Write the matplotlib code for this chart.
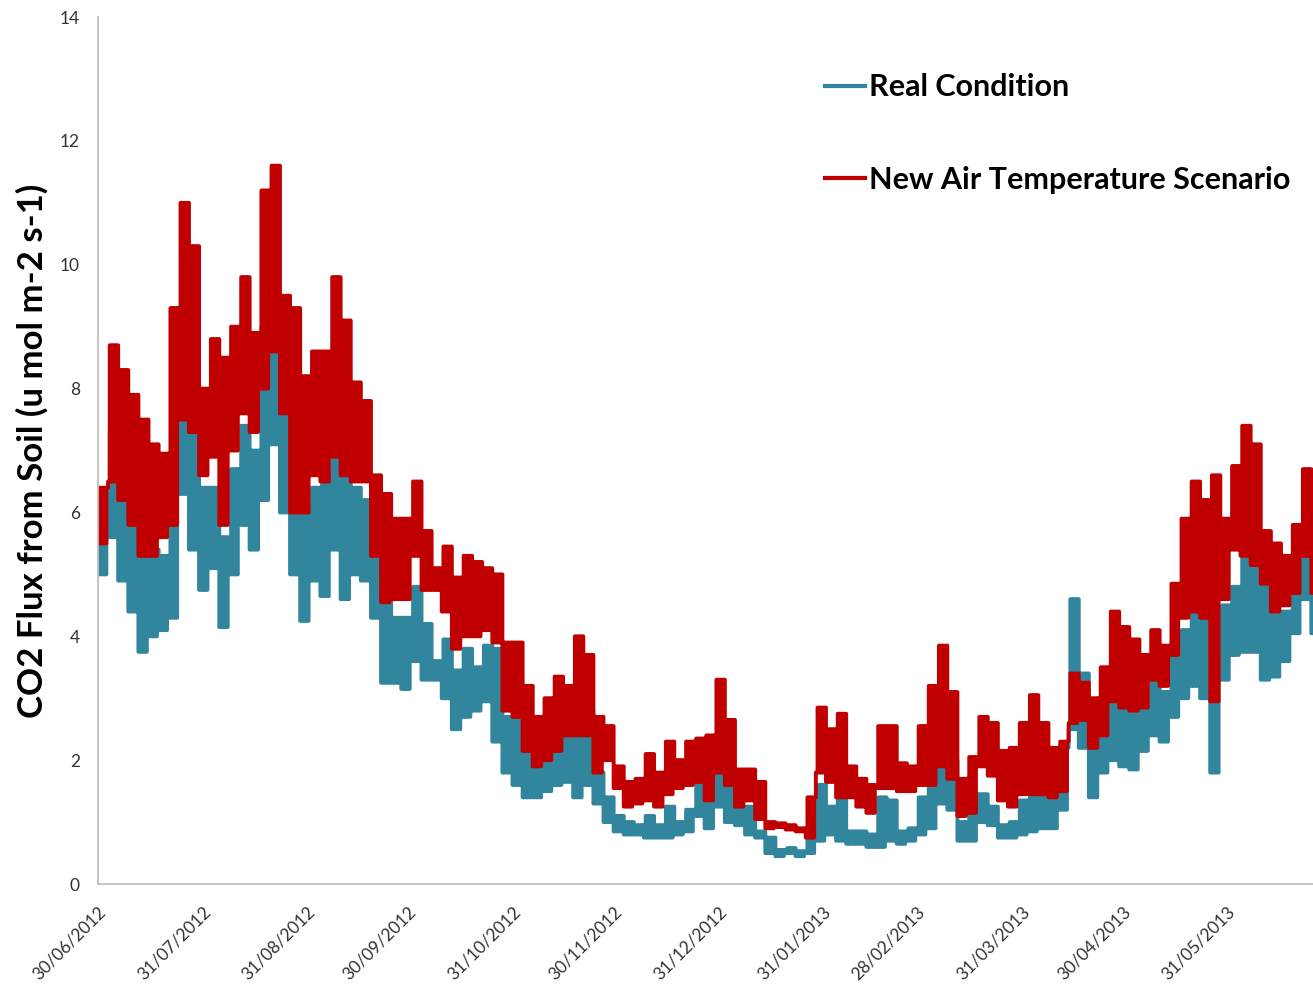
import numpy as np
import pandas as pd
import matplotlib
matplotlib.use("Agg")
import matplotlib.pyplot as plt

# 3-day windows from 30/06/2012: daily low / high
real_lo = [5.0, 5.6, 4.9, 4.4, 3.75, 4.0, 4.1, 4.3, 6.3, 5.4, 4.75, 5.1, 4.15, 5.0, 5.8, 5.4, 6.2, 7.1, 6.0, 5.0,
           4.25, 4.9, 4.65, 5.4, 4.6, 5.0, 4.9, 4.3, 3.25, 3.25, 3.15, 3.6, 3.3, 3.3, 3.0, 2.5, 2.7, 2.8, 2.95, 2.3,
           1.8, 1.6, 1.4, 1.4, 1.5, 1.6, 1.65, 1.4, 1.6, 1.3, 1.0, 0.85, 0.8, 0.8, 0.75, 0.75, 0.75, 0.8, 0.85, 1.1,
           0.9, 1.25, 1.0, 0.95, 0.8, 0.75, 0.5, 0.45, 0.5, 0.45, 0.5, 0.7, 0.8, 0.7, 0.65, 0.65, 0.6, 0.6, 0.7, 0.65,
           0.7, 0.8, 0.9, 1.3, 1.2, 0.7, 0.7, 1.0, 0.95, 0.75, 0.75, 0.8, 0.85, 0.9, 0.9, 1.2, 2.5, 2.2, 1.4, 1.8,
           2.0, 1.9, 1.85, 2.15, 2.4, 2.3, 2.7, 3.0, 3.2, 3.0, 1.8, 3.3, 3.7, 3.75, 3.75, 3.3, 3.35, 3.6, 4.05, 4.6,
           4.05]
real_hi = [5.85, 7.3, 6.8, 6.0, 5.6, 5.4, 5.3, 6.9, 8.8, 7.6, 6.4, 6.4, 5.6, 6.7, 7.4, 7.0, 9.0, 9.4, 7.6, 6.5,
           6.2, 6.4, 6.7, 7.6, 7.4, 6.4, 6.2, 5.4, 4.75, 4.3, 4.3, 4.8, 4.2, 3.6, 3.95, 3.45, 3.8, 3.5, 3.85, 3.8,
           2.7, 2.7, 2.4, 1.9, 2.2, 2.6, 2.4, 2.9, 2.8, 1.8, 1.4, 1.1, 1.0, 0.95, 1.1, 0.95, 1.25, 1.0, 1.2, 1.6,
           1.6, 2.2, 1.7, 1.25, 1.25, 0.85, 0.75, 0.55, 0.58, 0.53, 0.75, 1.6, 1.25, 1.5, 0.85, 0.85, 0.8, 1.4, 1.35, 0.85,
           0.9, 1.4, 1.8, 2.35, 2.0, 1.0, 1.45, 1.45, 1.25, 0.95, 1.0, 1.35, 1.4, 1.5, 1.6, 2.2, 4.6, 3.4, 2.5, 2.7,
           3.4, 3.1, 3.0, 2.85, 3.3, 3.1, 3.75, 4.1, 4.85, 4.4, 4.4, 4.5, 4.8, 5.7, 5.65, 5.1, 4.4, 4.4, 4.8, 5.65,
           5.5]
new_lo = [5.5, 6.5, 6.2, 5.8, 5.3, 5.3, 5.6, 5.8, 7.5, 7.3, 6.6, 6.9, 5.8, 7.0, 7.6, 7.3, 8.0, 8.6, 7.6, 6.0,
          6.0, 6.6, 6.5, 6.9, 6.6, 6.5, 6.5, 5.3, 4.55, 4.6, 4.6, 5.3, 4.75, 4.75, 4.4, 3.8, 4.0, 4.0, 4.1, 3.9,
          2.8, 2.7, 2.15, 1.9, 2.0, 2.15, 2.4, 2.4, 2.4, 1.8, 2.0, 1.55, 1.25, 1.3, 1.35, 1.25, 1.45, 1.55, 1.6, 1.65,
          1.35, 1.8, 1.6, 1.25, 1.35, 1.05, 0.9, 0.92, 0.88, 0.85, 0.75, 1.8, 1.65, 1.4, 1.4, 1.25, 1.15, 1.55, 1.55, 1.5,
          1.5, 1.6, 1.6, 1.9, 1.7, 1.1, 1.15, 1.9, 1.75, 1.35, 1.25, 1.45, 1.45, 1.45, 1.4, 1.5, 2.6, 2.65, 2.2, 2.4,
          2.95, 2.85, 2.8, 2.85, 3.3, 3.2, 3.7, 4.3, 4.4, 4.3, 2.95, 4.6, 5.4, 5.3, 5.15, 4.85, 4.4, 4.5, 4.7, 5.3,
          4.7]
new_hi = [6.4, 8.7, 8.3, 7.9, 7.5, 7.1, 6.95, 9.3, 11.0, 10.3, 8.0, 8.8, 8.5, 9.0, 9.8, 8.9, 11.2, 11.6, 9.5, 9.3,
          8.2, 8.6, 8.6, 9.8, 9.1, 8.1, 7.8, 6.6, 6.3, 5.9, 5.9, 6.5, 5.7, 5.1, 5.45, 4.95, 5.3, 5.2, 5.1, 5.0,
          3.9, 3.9, 3.2, 2.7, 3.0, 3.35, 3.2, 4.0, 3.7, 2.7, 2.55, 1.9, 1.65, 1.7, 2.1, 1.8, 2.3, 2.0, 2.3, 2.35,
          2.4, 3.3, 2.65, 1.85, 1.85, 1.65, 1.0, 0.98, 0.95, 0.9, 1.4, 2.85, 2.5, 2.75, 1.9, 1.7, 1.6, 2.55, 2.55, 1.95,
          1.9, 2.55, 3.2, 3.85, 3.1, 1.7, 2.05, 2.7, 2.6, 2.15, 2.2, 2.6, 3.05, 2.6, 2.2, 2.3, 3.4, 3.25, 3.0, 3.5,
          4.4, 4.15, 3.95, 3.7, 4.1, 3.85, 4.85, 5.9, 6.5, 6.2, 6.6, 5.9, 6.75, 7.4, 7.1, 5.7, 5.5, 5.3, 5.8, 6.7,
          5.9]

tick_dates = ["2012-06-30", "2012-07-31", "2012-08-31", "2012-09-30", "2012-10-31", "2012-11-30",
              "2012-12-31", "2013-01-31", "2013-02-28", "2013-03-31", "2013-04-30", "2013-05-31"]
series_names = ["Real Condition", "New Air Temperature Scenario"]
teal = "#31859C"
red = "#C00000"

start = pd.Timestamp("2012-06-30")
days_per_window = 3
n = len(real_lo)
# one low/high swing per day inside each window
offs = np.arange(2 * days_per_window * n) * 0.5 + 0.25
x = start + pd.to_timedelta(offs, unit="D")


def daily(lo, hi):
    v = np.empty(2 * len(lo))
    v[0::2] = lo
    v[1::2] = hi
    v = v.reshape(-1, 2)
    return np.repeat(v, days_per_window, axis=0).ravel()


fig = plt.figure(figsize=(13.13, 9.85), dpi=100)
ax = fig.add_axes([0.0746, 0.1025, 0.9254, 0.8802])

ax.plot(x, daily(real_lo, real_hi), color=teal, lw=2.8, drawstyle="steps-mid", label=series_names[0])
ax.plot(x, daily(new_lo, new_hi), color=red, lw=2.8, drawstyle="steps-mid", label=series_names[1])

ax.set_ylim(0, 14)
ax.set_yticks(range(0, 15, 2))
ax.set_xlim(start, start + pd.Timedelta(days=360.5))
ticks = pd.to_datetime(tick_dates)
ax.set_xticks(ticks)
ax.set_xticklabels([t.strftime("%d/%m/%Y") for t in ticks], rotation=45, ha="right",
                   rotation_mode="anchor", fontsize=12.5, color="#333333", family="Lato")
for lab in ax.get_yticklabels():
    lab.set_family("Lato")
    lab.set_fontsize(12.5)
    lab.set_color("#333333")
ax.tick_params(axis="both", length=0)
ax.tick_params(axis="y", pad=13)
ax.tick_params(axis="x", pad=14)

for s in ["top", "right"]:
    ax.spines[s].set_visible(False)
for s in ["left", "bottom"]:
    ax.spines[s].set_color("#BFBFBF")
    ax.spines[s].set_linewidth(1.3)

ax.set_ylabel("CO2 Flux from Soil (u mol m-2 s-1)", fontsize=25, fontweight="bold", family="Lato",
              labelpad=8)

leg = ax.legend(loc="upper left", bbox_to_anchor=(0.598, 0.935), frameon=False,
                prop={"family": "Lato", "weight": "bold", "size": 22},
                handlelength=1.34, handletextpad=0.1, labelspacing=2.1,
                borderpad=0, borderaxespad=0)
for h in leg.get_lines():
    h.set_linewidth(3)

fig.savefig("out.png", dpi=100)
